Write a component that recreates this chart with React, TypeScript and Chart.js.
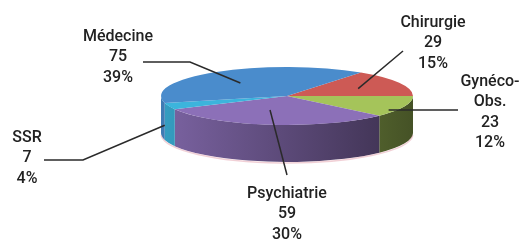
import React, { useEffect, useRef } from "react";
import { Chart, registerables } from "chart.js";
Chart.register(...registerables);

const categories = ["Chirurgie", "Gynéco-Obs.", "Psychiatrie", "SSR", "Médecine"];
const values = [29, 23, 59, 7, 75];
const percentLabels = ["15%", "12%", "30%", "4%", "39%"];
const topColors = ["#cd5a55", "#a5c45a", "#8c70b8", "#3cb4dc", "#4a8ccc"];

// 3D geometry (layout)
const ECX = 287, ECY = 96, RX = 126, RY = 29, DEPTH = 37;

// label layout: text centre, anchor inside slice, leader path
const labelLayout = [
  { x: 433, y: 23, t: 0.55, r: 0.62, d: 0, path: [[403, 51]] },
  { x: 490, y: 82, t: 0.72, r: 0.94, d: 0, path: [[458, 110]] },
  { x: 287, y: 194, t: 0.57, r: 0.5, d: 0, path: [[287, 175]] },
  { x: 27, y: 138, t: 1.0, r: 1.0, d: 0.6, path: [[83, 160], [44, 160]] },
  { x: 118, y: 37, t: 0.46, r: 0.58, d: 0, path: [[190, 62], [143, 62]] },
];

function shade(hex: string, f: number) {
  const n = parseInt(hex.slice(1), 16);
  const r = Math.round(((n >> 16) & 255) * f);
  const g = Math.round(((n >> 8) & 255) * f);
  const b = Math.round((n & 255) * f);
  return `rgb(${r},${g},${b})`;
}

const pie3d = {
  id: "pie3d",
  beforeDatasetsDraw(chart: any) {
    const ctx: CanvasRenderingContext2D = chart.ctx;
    const arcs = chart.getDatasetMeta(0).data;
    // side walls
    arcs.forEach((arc: any, i: number) => {
      const { startAngle, endAngle } = arc.getProps(["startAngle", "endAngle"], true);
      for (const k of [-2, 0, 2]) {
        const lo = Math.max(startAngle, k * Math.PI);
        const hi = Math.min(endAngle, k * Math.PI + Math.PI);
        if (hi > lo) {
          const grad = ctx.createLinearGradient(ECX - RX, 0, ECX + RX, 0);
          grad.addColorStop(0, shade(topColors[i], 0.88));
          grad.addColorStop(1, shade(topColors[i], 0.42));
          ctx.save();
          ctx.beginPath();
          ctx.ellipse(ECX, ECY, RX, RY, 0, lo, hi);
          ctx.lineTo(ECX + RX * Math.cos(hi), ECY + RY * Math.sin(hi) + DEPTH);
          ctx.ellipse(ECX, ECY + DEPTH, RX, RY, 0, hi, lo, true);
          ctx.closePath();
          ctx.fillStyle = grad;
          ctx.fill();
          ctx.restore();
        }
      }
    });
    // faint fringe under the pie
    ctx.save();
    ctx.beginPath();
    ctx.ellipse(ECX, ECY + DEPTH + 1, RX, RY, 0, 0.05, Math.PI - 0.05);
    ctx.strokeStyle = "rgba(225,150,165,0.45)";
    ctx.lineWidth = 1.5;
    ctx.stroke();
    ctx.restore();
    // squash top faces
    const a0 = arcs[0];
    const R = a0.outerRadius;
    ctx.save();
    ctx.translate(ECX, ECY);
    ctx.scale(RX / R, RY / R);
    ctx.translate(-a0.x, -a0.y);
  },
  afterDatasetsDraw(chart: any) {
    const ctx: CanvasRenderingContext2D = chart.ctx;
    ctx.restore();
    const arcs = chart.getDatasetMeta(0).data;
    arcs.forEach((arc: any, i: number) => {
      const { startAngle, endAngle } = arc.getProps(["startAngle", "endAngle"], true);
      const L = labelLayout[i];
      const a = startAngle + L.t * (endAngle - startAngle);
      const px = ECX + RX * L.r * Math.cos(a);
      const py = ECY + RY * L.r * Math.sin(a) + L.d * DEPTH;
      ctx.save();
      ctx.beginPath();
      ctx.moveTo(px, py);
      L.path.forEach((p) => ctx.lineTo(p[0], p[1]));
      ctx.strokeStyle = "#2a2a2a";
      ctx.lineWidth = 1.5;
      ctx.stroke();
      const lines = [...categories[i].split(/(?<=-)/), String(values[i]), percentLabels[i]];
      ctx.fillStyle = "#222222";
      ctx.font = '500 16px Roboto, "DejaVu Sans Condensed", sans-serif';
      ctx.textAlign = "center";
      ctx.textBaseline = "middle";
      lines.forEach((s, j) => ctx.fillText(s, L.x, L.y + j * 20.3));
      ctx.restore();
    });
  },
};

export default function App() {
  const ref = useRef<HTMLCanvasElement>(null);
  useEffect(() => {
    const chart = new Chart(ref.current as HTMLCanvasElement, {
      type: "pie",
      data: {
        labels: categories,
        datasets: [
          {
            data: values,
            backgroundColor: topColors,
            borderWidth: 0,
            clip: false as any,
          },
        ],
      },
      options: {
        responsive: false,
        animation: false,
        rotation: 90 - (values[0] / values.reduce((s, v) => s + v, 0)) * 360,
        events: [],
        plugins: { legend: { display: false }, tooltip: { enabled: false } },
      },
      plugins: [pie3d],
    });
    return () => chart.destroy();
  }, []);
  return (
    <div style={{ position: "absolute", left: 0, top: 0, width: 523, height: 242, background: "#fff" }}>
      <canvas ref={ref} width={523} height={242} style={{ display: "block" }} />
    </div>
  );
}
